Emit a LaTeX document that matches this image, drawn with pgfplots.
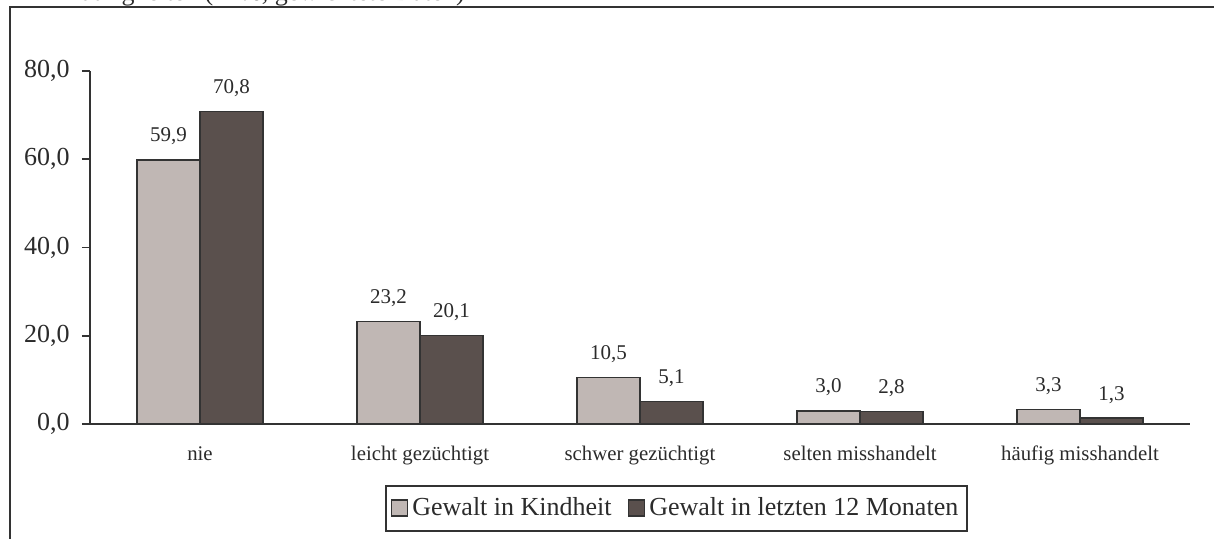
\documentclass[border=0pt]{standalone}
\usepackage{pgfplots}
\pgfplotsset{compat=1.18}
\usepackage{fontspec}
\setmainfont{Liberation Serif}
\definecolor{lightbar}{HTML}{C0B7B4}
\definecolor{darkbar}{HTML}{5A504D}
\definecolor{edge}{HTML}{333333}
\definecolor{txt}{HTML}{2B2B2B}
\begin{document}
\begin{tikzpicture}
\useasboundingbox (0,0) rectangle (607pt,269pt);
\clip (0,0) rectangle (607pt,269pt);
% partly cut-off title (as in the reference)
\node[anchor=base east, inner sep=0pt, font=\fontsize{13}{15}\selectfont, text=txt] at (232.5pt,268.6pt) {Häufigkeiten (in \%, gewichtete Daten)};
% frame
\draw[edge, line width=1.1pt] (5pt,-5pt) -- (5pt,265.5pt) -- (620pt,265.5pt);
\begin{axis}[
  at={(45pt,57pt)}, anchor=south west,
  scale only axis, width=550pt, height=176.5pt,
  ybar=0pt, bar width=31.5pt,
  xmin=-0.5, xmax=4.5, ymin=0, ymax=80,
  axis x line=bottom, axis y line=left,
  axis line style={edge, line width=0.8pt, -},
  xtick={0,1,2,3,4},
  xticklabels={nie, leicht gezüchtigt, schwer gezüchtigt, selten misshandelt, häufig misshandelt},
  x tick style={draw=none},
  xticklabel style={font=\fontsize{10.4}{12}\selectfont, text=txt, anchor=base, inner sep=0pt, yshift=-16pt},
  extra x ticks={-0.5,0.5,1.5,2.5,3.5,4.5},
  extra x tick labels={},
  extra x tick style={tick align=outside, major tick length=4pt, tick style={edge, line width=0.8pt, draw=edge}},
  ytick={0,20,40,60,80},
  ytick align=outside, major tick length=4pt,
  y tick style={edge, line width=0.8pt},
  yticklabel style={font=\fontsize{13}{15}\selectfont, text=txt, anchor=east, inner sep=0pt, xshift=-6pt},
  /pgf/number format/.cd, fixed, fixed zerofill, precision=1, use comma, assume math mode=true,
  /pgfplots/.cd,
  nodes near coords,
  nodes near coords style={font=\fontsize{10.5}{12}\selectfont, text=txt, anchor=base, inner sep=0pt, yshift=9pt,
    /pgf/number format/.cd, fixed, fixed zerofill, precision=1, use comma, assume math mode=true},
  legend columns=2,
  legend style={at={(axis description cs:0.5332,-0.238)}, anchor=center, draw=edge, line width=1pt,
    font=\fontsize{13}{15}\selectfont, text=txt, inner xsep=2.5pt, inner ysep=4pt,
    /tikz/every even column/.append style={column sep=6pt}},
  legend image code/.code={\draw[#1, line width=0.8pt, draw=edge] (0pt,-4pt) rectangle (8pt,4pt);},
  clip=false,
]
\addplot[fill=lightbar, draw=edge, line width=0.8pt] coordinates {(0,59.9) (1,23.2) (2,10.5) (3,3.0) (4,3.3)};
\addplot[fill=darkbar, draw=edge, line width=0.8pt] coordinates {(0,70.8) (1,20.1) (2,5.1) (3,2.8) (4,1.3)};
\legend{Gewalt in Kindheit, Gewalt in letzten 12 Monaten}
\end{axis}
\end{tikzpicture}
\end{document}
